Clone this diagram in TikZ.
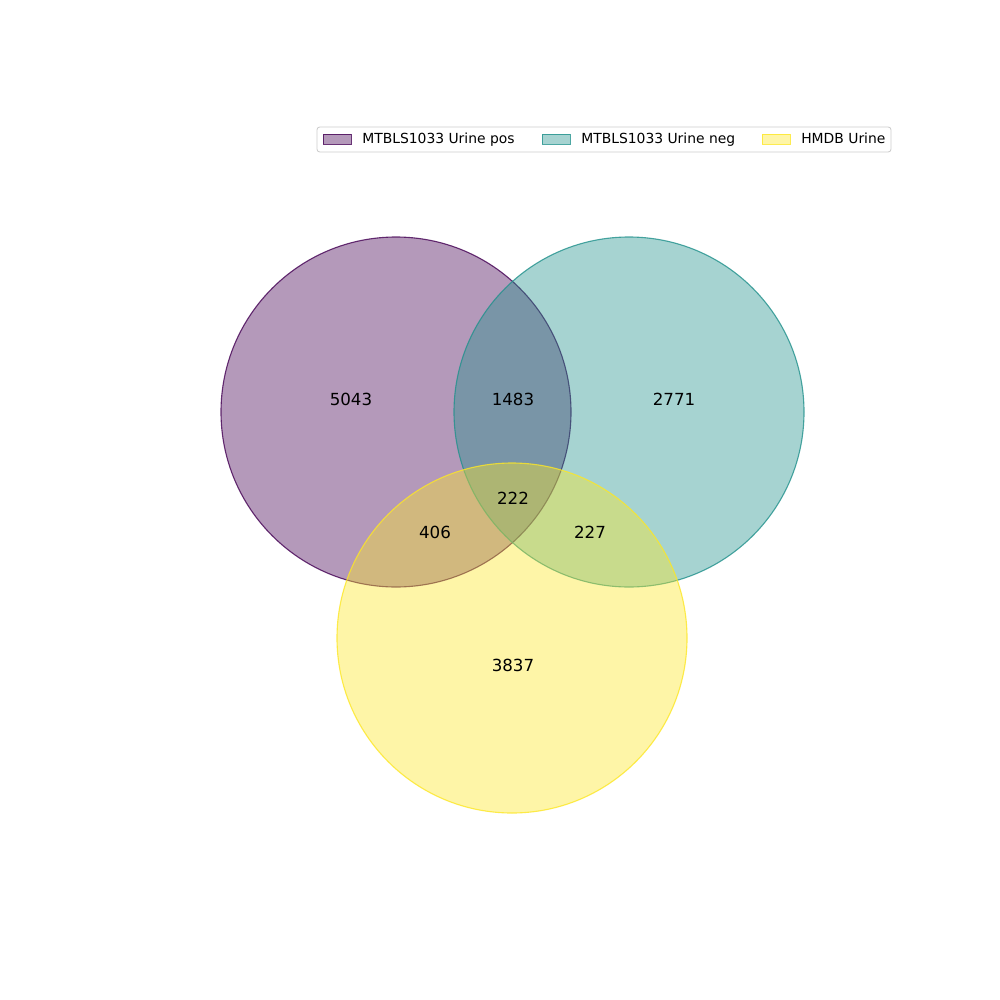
\documentclass[tikz,border=0pt]{standalone}
\usepackage{fontspec}
\setmainfont{DejaVu Sans}
\definecolor{vpur}{HTML}{440154}
\definecolor{vteal}{HTML}{21918C}
\definecolor{vyel}{HTML}{FDE725}
\begin{document}
\begin{tikzpicture}[x=0.72pt,y=-0.72pt,
  setc/.style={fill opacity=0.4, draw opacity=0.8, line width=0.8pt},
  num/.style={font=\fontsize{12}{14}\selectfont, text=black, inner sep=0pt},
  leg/.style={font=\fontsize{10}{12}\selectfont, anchor=base west, inner sep=0pt},
  patch/.style={fill opacity=0.4, draw opacity=0.8, line width=0.6pt}]
\useasboundingbox (0,0) rectangle (1000,1000);
\fill[white] (0,0) rectangle (1000,1000);
\coordinate (cA) at (396,412);
\coordinate (cB) at (629,412);
\coordinate (cC) at (512,638);
\path[setc, fill=vpur, draw=vpur] (cA) circle[radius=175];
\path[setc, fill=vteal, draw=vteal] (cB) circle[radius=175];
\path[setc, fill=vyel, draw=vyel] (cC) circle[radius=175];
\node[num] (n1) at (351,399) {5043};
\node[num] (n2) at (513,399) {1483};
\node[num] (n3) at (674,399) {2771};
\node[num] (n4) at (513,498) {222};
\node[num] (n5) at (435,532) {406};
\node[num] (n6) at (590,532) {227};
\node[num] (n7) at (513,665) {3837};
% legend
\draw[rounded corners=2pt, draw=black!20, fill=white, fill opacity=0.8, line width=0.6pt] (317,127) rectangle (891,152);
\path[patch, fill=vpur, draw=vpur] (323,134) rectangle (351,144);
\node[leg] (l1) at (362,143.5) {MTBLS1033 Urine pos};
\path[patch, fill=vteal, draw=vteal] (542,134) rectangle (570,144);
\node[leg] (l2) at (581,143.5) {MTBLS1033 Urine neg};
\path[patch, fill=vyel, draw=vyel] (762,134) rectangle (790,144);
\node[leg] (l3) at (801,143.5) {HMDB Urine};
\end{tikzpicture}
\end{document}
